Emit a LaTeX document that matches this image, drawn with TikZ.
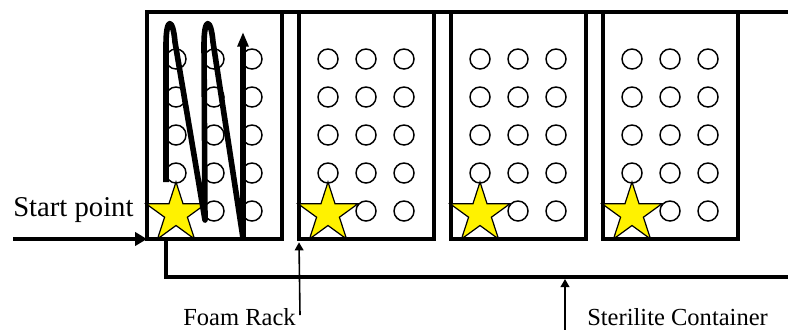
\documentclass[tikz,border=0pt]{standalone}
\usepackage{fontspec}
\setmainfont{Liberation Serif}
\usetikzlibrary{arrows.meta}

\begin{document}
\begin{tikzpicture}[x=0.75pt, y=-0.75pt,
  rackline/.style={line width=3.3pt, line join=miter},
  hole/.style={line width=1.1pt},
  startstar/.style={draw=black, line width=0.9pt, fill=yellow, line join=miter},
  pathline/.style={line width=4.2pt, line join=round, -{Triangle[length=11pt, width=8pt]}},
  feedline/.style={line width=3.3pt, -{Triangle[length=9pt, width=10pt]}},
  pointer/.style={line width=1.2pt, -{Triangle[length=6pt, width=6.5pt]}},
  bigtext/.style={font=\fontsize{21.5}{24}\selectfont, inner sep=0pt},
  labeltext/.style={font=\fontsize{18.4}{21}\selectfont, inner sep=0pt}]

\useasboundingbox (0,0) rectangle (788,329);

% container: top edge and the U-shaped bottom
\draw[rackline] (282,12) -- (792,12);
\draw[rackline] (166,239) -- (166,277) -- (792,277);
\coordinate (boxbottom) at (565,279);

% four foam racks with 3 x 5 holes and a star at the start corner
\foreach \i in {1,2,3,4}{
  \pgfmathsetmacro{\L}{147+152*(\i-1)}
  \draw[rackline] (\L,12) rectangle ({\L+135},239);
  \coordinate (rack\i) at (\L,239);
  \foreach \cx in {29,67,105}
    \foreach \cy in {59,97,135,173,211}
      \draw[hole] ({\L+\cx},\cy) circle (10);
  \draw[startstar] ({\L+29},213.5)
     +(-90:31.5) -- +(-54:12) -- +(-18:31.5) -- +(18:12) -- +(54:31.5)
     -- +(90:12) -- +(126:31.5) -- +(162:12) -- +(198:31.5) -- +(234:12) -- cycle;
}

% serpentine pick-up route through the first rack
\draw[pathline] (166,182) -- (166,45)
   .. controls (166,16) and (173,18) .. (175,42) -- (205,220)
   -- (204,45) .. controls (204,16) and (211,18) .. (213,42) -- (243,238)
   -- (243,32);

% start arrow and its label
\node[bigtext, anchor=base west] (start) at (13,216) {Start point};
\coordinate (feed) at (13,239);
\draw[feedline] (feed) -- (rack1);

% pointer labels
\node[labeltext, anchor=base east] (foam) at (296,325) {Foam Rack};
\coordinate (foamtail) at (300,315);
\draw[pointer] (foamtail) -- ([yshift=-2.5]rack2);

\node[labeltext, anchor=base west] (steri) at (587,325) {Sterilite Container};
\coordinate (steritail) at (565,332);
\draw[pointer] (steritail) -- (boxbottom);
\end{tikzpicture}
\end{document}
